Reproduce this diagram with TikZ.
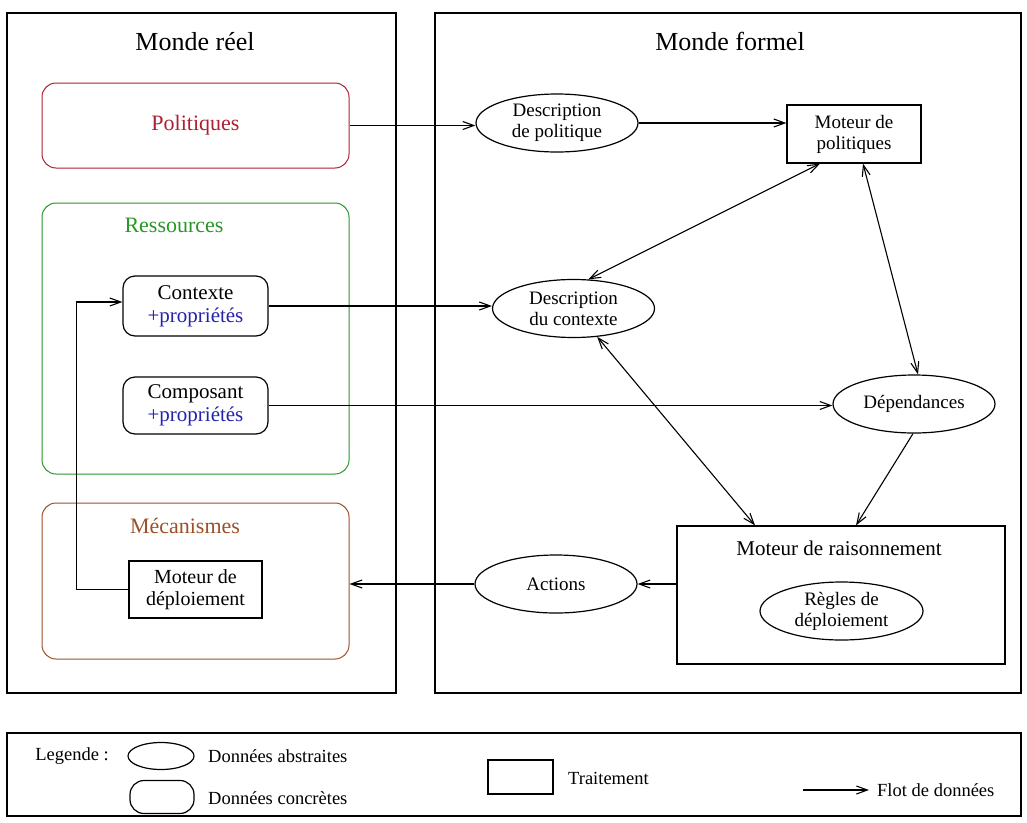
\documentclass[tikz,border=0pt]{standalone}
\usepackage{fontspec}
\setmainfont{Liberation Serif}
\usepackage{xcolor}
\usetikzlibrary{
  arrows,
  arrows.meta,
  shapes
}
\definecolor{rougepol}{RGB}{175,30,50}
\definecolor{vertres}{RGB}{40,150,40}
\definecolor{brunmeca}{RGB}{155,80,40}
\definecolor{bleuprop}{RGB}{35,35,170}

\begin{document}
\begin{tikzpicture}[x=1pt, y=-1pt,
    >={Straight Barb[length=11pt,width=8pt]},
  every node/.style = {align=center, inner sep=0pt,
    font=\fontsize{19}{21}\selectfont},
  monde/.style = {draw, line width=1.6pt},
  groupe/.style = {draw, rounded corners=14pt, line width=1pt,
    minimum width=307pt},
  concret/.style = {draw, rounded corners=12pt, line width=1.2pt,
    minimum width=145pt, font=\fontsize{21}{23}\selectfont},
  abstrait/.style = {draw, ellipse, line width=1.2pt,
    minimum width=162pt, minimum height=58pt},
  traitement/.style = {draw, rectangle, line width=1.2pt},
  flot/.style = {->, line width=1.1pt},
  titre/.style = {font=\fontsize{26}{28}\selectfont},
  groupetitre/.style = {font=\fontsize{22}{24}\selectfont},
  legende/.style = {font=\fontsize{18.5}{20}\selectfont}]
  \useasboundingbox (0,0) rectangle (1027,822);

  % les deux mondes
  \node[monde, minimum width=389pt, minimum height=680pt] (reel) at (201.5,353) {};
  \node[monde, minimum width=586pt, minimum height=680pt] (formel) at (728,353) {};
  \node[titre, anchor=base] (titrereel) at (195,50) {Monde réel};
  \node[titre, anchor=base] (titreformel) at (730,50) {Monde formel};

  % monde reel
  \node[groupe, draw=rougepol, text=rougepol, minimum height=85pt,
    groupetitre] (politiques) at (195.5,125.5) {Politiques};
  \node[groupe, draw=vertres, minimum height=271pt] (ressources) at (195.5,338.5) {};
  \node[groupetitre, text=vertres] (titreres) at (174,225) {Ressources};
  \node[groupe, draw=brunmeca, minimum height=156pt] (mecanismes) at (195.5,581) {};
  \node[groupetitre, text=brunmeca] (titremeca) at (185,526) {Mécanismes};
  \node[concret, minimum height=60pt] (contexte) at (195.5,306)
    {Contexte\\\textcolor{bleuprop}{+propriétés}};
  \node[concret, minimum height=57pt] (composant) at (195.5,405.5)
    {Composant\\\textcolor{bleuprop}{+propriétés}};
  \node[traitement, minimum width=133pt, minimum height=57pt,
    font=\fontsize{20}{22}\selectfont] (deploiement) at (195.5,589.5)
    {Moteur de\\déploiement};

  % monde formel
  \node[abstrait] (descpol) at (557,123) {Description\\de politique};
  \node[traitement, minimum width=134pt, minimum height=58pt] (motpol) at (854,134)
    {Moteur de\\politiques};
  \node[abstrait] (descctx) at (573.5,308.5) {Description\\du contexte};
  \node[abstrait] (dependances) at (914,404) {Dépendances};
  \node[abstrait] (actions) at (556,584) {Actions};
  \node[traitement, minimum width=328pt, minimum height=138pt] (raisonnement) at (841,595) {};
  \node[font=\fontsize{21}{23}\selectfont] (titreraison) at (839,548) {Moteur de raisonnement};
  \node[abstrait, minimum width=163pt] (regles) at (841.5,611) {Règles de\\déploiement};

  % flots
  \draw[flot] (politiques.east) -- (descpol.west |- politiques.east);
  \draw[flot] (descpol.east) -- (motpol.west |- descpol.east);
  \draw[flot] (contexte.east) -- (descctx.west |- contexte.east);
  \draw[flot] (composant.east) -- (dependances.west |- composant.east);
  \draw[flot, <->] (descctx.63) -- ([xshift=-34pt]motpol.south);
  \draw[flot, <->] ([xshift=9pt]motpol.south) -- ([xshift=4pt]dependances.north);
  \draw[flot, <->] (descctx) -- ([xshift=-86pt]raisonnement.north);
  \draw[flot] ([xshift=-1pt]dependances.south) -- ([xshift=15pt]raisonnement.north);
  \draw[flot] (raisonnement.west |- actions.east) -- (actions.east);
  \draw[flot] (actions.west) -- (mecanismes.east |- actions.west);
  \draw[flot] (deploiement.west) -- ++(-52,0) |- ([yshift=4pt]contexte.west);

  % legende
  \node[monde, minimum width=1014pt, minimum height=83pt] (legende) at (514,774.5) {};
  \node[legende] (legtxt) at (72,756) {Legende :};
  \node[abstrait, minimum width=66pt, minimum height=27pt] (legabs) at (161,756) {};
  \node[legende, anchor=west] (legabstxt) at (208,756) {Données abstraites};
  \node[concret, minimum width=64pt, minimum height=33pt, rounded corners=14pt]
    (legcon) at (162,797) {};
  \node[legende, anchor=west] (legcontxt) at (208,798) {Données concrètes};
  \node[traitement, minimum width=65pt, minimum height=34pt] (legtrait) at (520.5,777) {};
  \node[legende, anchor=west] (legtraittxt) at (568,778) {Traitement};
  \coordinate (flotdebut) at (803,790);
  \node[legende, anchor=west] (legflot) at (877,790) {Flot de données};
  \draw[flot] (flotdebut) -- ([xshift=-8pt]legflot.west);
\end{tikzpicture}
\end{document}
